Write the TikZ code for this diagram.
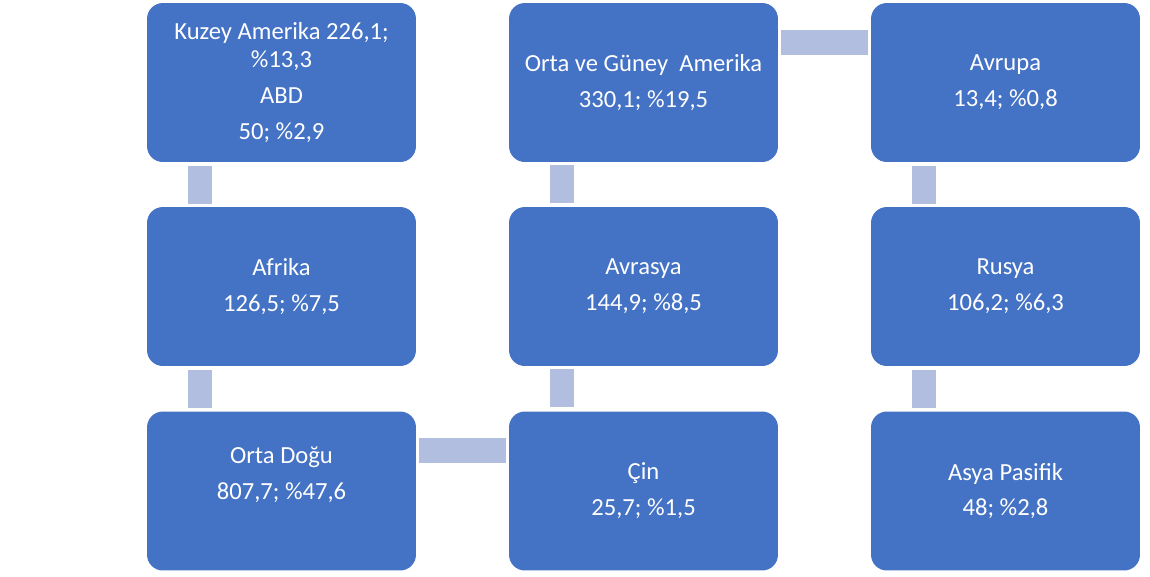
\documentclass[tikz,border=0pt]{standalone}
\usepackage{fontspec}
\setmainfont{Carlito}
\usepackage{xcolor}
\definecolor{kutumavi}{RGB}{68,114,196}
\definecolor{baglanti}{RGB}{177,190,223}

\begin{document}
\begin{tikzpicture}[x=0.02cm,y=-0.02cm,
	kutu/.style={fill=kutumavi, draw=none, rounded corners=9pt, minimum width=5.38cm,
		minimum height=3.18cm, inner sep=0pt, text=white, align=center,
		font=\fontsize{14}{20.4}\selectfont},
	dikey/.style={baglanti, line width=0.48cm, shorten <=0.08cm, shorten >=0.06cm},
	yatay/.style={baglanti, line width=0.5cm, shorten <=0.06cm, shorten >=0.06cm}]
	\useasboundingbox (0,0) rectangle (1150,576);

	% first column
	\node[kutu] (kuzey) at (281.5,82.5) {Kuzey Amerika 226,1;\\[-4.6pt]\%13,3\\ABD\\50; \%2,9};
	\node[kutu] (afrika) at (281.5,286.5) {Afrika\\126,5; \%7,5};
	\node[kutu] (ortadogu) at (281.5,491) {Orta Doğu\\807,7; \%47,6\\\mbox{}};

	% second column
	\node[kutu] (guney) at (643.5,82.5) {Orta ve Güney~ Amerika\\330,1; \%19,5};
	\node[kutu] (avrasya) at (643.5,286.5) {Avrasya\\144,9; \%8,5};
	\node[kutu] (cin) at (643.5,491) {Çin\\25,7; \%1,5};

	% third column
	\node[kutu] (avrupa) at (1005.5,82.5) {Avrupa\\13,4; \%0,8};
	\node[kutu] (rusya) at (1005.5,286.5) {Rusya\\106,2; \%6,3};
	\node[kutu] (asya) at (1005.5,491) {Asya Pasifik\\48; \%2,8};

	% links
	\draw[dikey] ([xshift=1.06cm] kuzey.south west) -- ([xshift=1.06cm] afrika.north west);
	\draw[dikey] ([xshift=1.06cm] afrika.south west) -- ([xshift=1.06cm] ortadogu.north west);
	\draw[yatay] ([yshift=-0.79cm] ortadogu.north east) -- ([yshift=-0.79cm] cin.north west);
	\draw[dikey] ([xshift=1.06cm] cin.north west) -- ([xshift=1.06cm] avrasya.south west);
	\draw[dikey] ([xshift=1.06cm] avrasya.north west) -- ([xshift=1.06cm] guney.south west);
	\draw[yatay] ([yshift=-0.79cm] guney.north east) -- ([yshift=-0.79cm] avrupa.north west);
	\draw[dikey] ([xshift=1.06cm] avrupa.south west) -- ([xshift=1.06cm] rusya.north west);
	\draw[dikey] ([xshift=1.06cm] rusya.south west) -- ([xshift=1.06cm] asya.north west);
\end{tikzpicture}
\end{document}
